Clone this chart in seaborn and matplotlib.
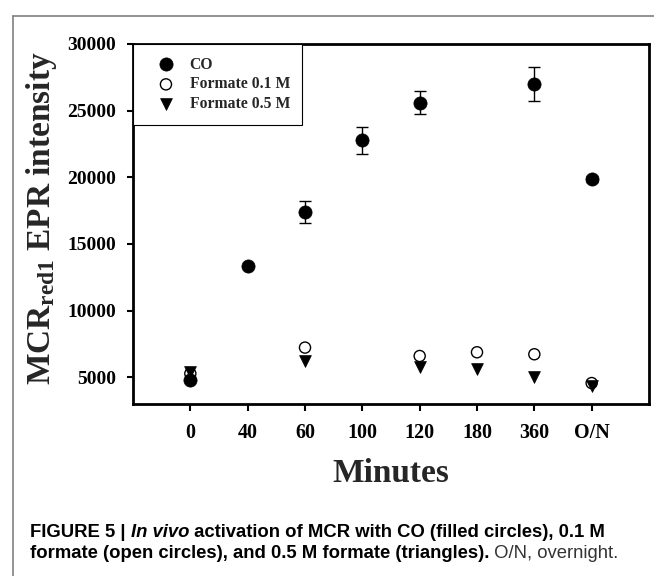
import numpy as np
import pandas as pd
import seaborn as sns
import matplotlib.pyplot as plt
import matplotlib.lines as mlines
from matplotlib import font_manager
from matplotlib.transforms import IdentityTransform

# Data
minutes = ["0", "40", "60", "100", "120", "180", "360", "O/N"]
co = [4800, 13330, 17400, 22780, 25610, np.nan, 26980, 19880]
co_err = [0, 0, 850, 1000, 830, np.nan, 1280, 200]
formate_01 = [5280, np.nan, 7230, np.nan, 6600, 6880, 6730, 4570]
formate_05 = [5400, np.nan, 6200, np.nan, 5750, 5600, 5060, 4350]

df = pd.DataFrame({
    "pos": np.arange(len(minutes)),
    "co": co,
    "co_err": co_err,
    "f01": formate_01,
    "f05": formate_05,
})

sns.set_style("ticks")
plt.rcParams["font.family"] = ["Liberation Serif", "DejaVu Serif"]
plt.rcParams["font.weight"] = "bold"
plt.rcParams["mathtext.fontset"] = "custom"
plt.rcParams["mathtext.rm"] = "Liberation Serif:bold"
plt.rcParams["mathtext.bf"] = "Liberation Serif:bold"
plt.rcParams["mathtext.it"] = "Liberation Serif:bold:italic"

# caption font: condensed sans if available
names = {f.name for f in font_manager.fontManager.ttflist}
cap_family = "Liberation Sans Narrow" if "Liberation Sans Narrow" in names else "Liberation Sans"

fig = plt.figure(figsize=(6.54, 5.76), dpi=100)
ax = fig.add_axes([133 / 654, 1 - 404 / 576, (649 - 133) / 654, (404 - 44) / 576])

# error bars for CO
ax.errorbar(df["pos"], df["co"], yerr=df["co_err"], fmt="none",
            ecolor="black", elinewidth=1.0, capsize=4.3, capthick=1.0, zorder=2)

sns.scatterplot(data=df, x="pos", y="co", marker="o", s=9.5 ** 2,
                color="black", edgecolor="black", linewidth=0.5,
                label="CO", ax=ax, zorder=3)
sns.scatterplot(data=df, x="pos", y="f01", marker="o", s=8 ** 2,
                facecolor="none", edgecolor="black", linewidth=1.0,
                label="Formate 0.1 M", ax=ax, zorder=4)
sns.scatterplot(data=df, x="pos", y="f05", marker="v", s=8.5 ** 2,
                color="black", edgecolor="black", linewidth=0.5,
                label="Formate 0.5 M", ax=ax, zorder=4)

ax.set_xlim(-1, 8)
ax.set_ylim(3000, 30000)
ax.set_xticks(df["pos"])
ax.set_xticklabels(minutes)
ax.set_yticks([5000, 10000, 15000, 20000, 25000, 30000])

for side in ["left", "right", "top", "bottom"]:
    ax.spines[side].set_visible(True)
    ax.spines[side].set_linewidth(2.0)
    ax.spines[side].set_color("black")

ax.tick_params(axis="x", direction="out", length=5, width=1.5, pad=9,
               labelsize=14.5, colors="black", top=False)
ax.tick_params(axis="y", direction="out", length=4, width=1.5, pad=8,
               labelsize=14, colors="black", right=False)
for lab in ax.get_xticklabels() + ax.get_yticklabels():
    lab.set_fontweight("bold")

ax.set_xlabel("Minutes", fontsize=24, fontweight="bold")
ax.xaxis.label.set_va("baseline")
ax.xaxis.set_label_coords(0.5, -(482 - 404) / 360)

ax.set_ylabel(r"$\mathbf{MCR_{red1}}$ EPR intensity", fontsize=24, fontweight="bold")
ax.yaxis.label.set_va("baseline")
ax.yaxis.set_label_coords((50 - 133) / 516, 0.517)

leg = ax.legend(loc="upper left", bbox_to_anchor=(0, 1), borderaxespad=0,
                frameon=True, fancybox=False, edgecolor="black", framealpha=1,
                prop={"family": "Liberation Serif", "weight": "bold", "size": 11.3},
                borderpad=0.8, labelspacing=0.25, handlelength=2.6,
                handletextpad=0.2, scatterpoints=1)
leg.get_frame().set_linewidth(0.8)

# grey frame around the panel (open at right and bottom)
fig.add_artist(mlines.Line2D([13 / 654, 1], [1 - 16 / 576, 1 - 16 / 576],
                             transform=fig.transFigure, color="#808080", lw=1.2))
fig.add_artist(mlines.Line2D([13 / 654, 13 / 654], [0, 1 - 16 / 576],
                             transform=fig.transFigure, color="#808080", lw=1.2))

# caption, built from pieces placed one after the other
fig.canvas.draw()
renderer = fig.canvas.get_renderer()


def caption_line(x, y, pieces):
    for text, style in pieces:
        t = fig.text(x, y, text, transform=IdentityTransform(), va="baseline",
                     ha="left", fontsize=13.35, family=[cap_family, "DejaVu Sans"],
                     **style)
        x = t.get_window_extent(renderer).x1


bold = {"fontweight": "bold", "color": "black"}
bold_it = {"fontweight": "bold", "fontstyle": "italic", "color": "black"}
normal = {"fontweight": "normal", "color": "#333333"}

caption_line(30, 576 - 537, [
    ("FIGURE 5 | ", bold),
    ("In vivo", bold_it),
    (" activation of MCR with CO (filled circles), 0.1 M", bold),
])
caption_line(30, 576 - 558, [
    ("formate (open circles), and 0.5 M formate (triangles).", bold),
    (" O/N, overnight.", normal),
])

fig.savefig("out.png", dpi=100)
